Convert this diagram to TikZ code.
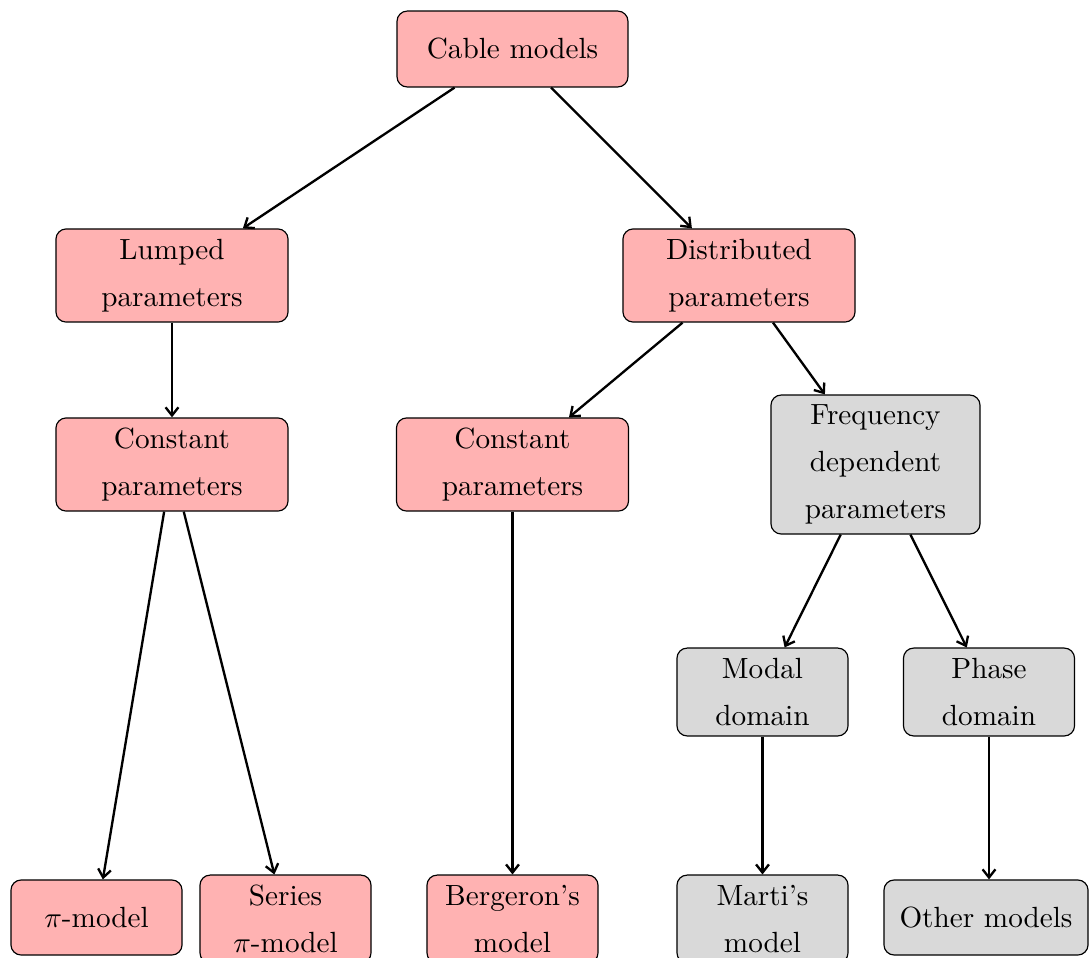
\documentclass[tikz,border=0pt]{standalone}
\usetikzlibrary{arrows.meta}
\begin{document}
\begin{tikzpicture}[x=0.3425pt, y=-0.3425pt,
  box/.style={draw, rounded corners=3.5pt, align=center, inner sep=2pt},
  redbox/.style={box, fill=red!30},
  graybox/.style={box, fill=gray!30},
  wide/.style={minimum width=79.5pt, minimum height=31.9pt},
  narrow/.style={minimum width=58.6pt, minimum height=30.1pt},
  link/.style={-{Straight Barb[length=2.8pt, width=4.4pt]}, thick}]
\useasboundingbox (0,0) rectangle (1089,957);

% top level
\node[redbox, minimum width=79.1pt, minimum height=26pt] (cable) at (512.5,49) {Cable models};

% second level
\node[redbox, wide] (lumped) at (172,275.5) {Lumped\\[4.1pt]parameters};
\node[redbox, wide] (distr) at (739,275.5) {Distributed\\[4.1pt]parameters};

% third level
\node[redbox, wide] (constL) at (172,464.5) {Constant\\[4.1pt]parameters};
\node[redbox, wide] (constM) at (512.5,464.5) {Constant\\[4.1pt]parameters};
\node[graybox, minimum width=71.6pt, minimum height=47.6pt] (freq) at (875.5,464.5) {Frequency\\[4.1pt]dependent\\[4.1pt]parameters};

% fourth level
\node[graybox, narrow] (modal) at (762.5,692) {Modal\\[4.1pt]domain};
\node[graybox, narrow] (phase) at (989,692) {Phase\\[4.1pt]domain};

% leaves
\node[redbox, minimum width=58.6pt, minimum height=25.7pt] (pi) at (96.5,917.5) {$\pi$-model};
\node[redbox, narrow] (series) at (285.5,919) {Series\\[4.1pt]$\pi$-model};
\node[redbox, narrow] (berg) at (512.5,919) {Bergeron's\\[4.1pt]model};
\node[graybox, narrow] (marti) at (762.5,919) {Marti's\\[4.1pt]model};
\node[graybox, minimum width=69.9pt, minimum height=25.7pt] (other) at (986,917.5) {Other models};

% connectors
\draw[link] (cable) -- (lumped);
\draw[link] (cable) -- (distr);
\draw[link] (lumped) -- (constL);
\draw[link] (distr) -- (constM);
\draw[link] (distr) -- (freq);
\draw[link] (constL) -- (pi);
\draw[link] (constL) -- (series);
\draw[link] (constM) -- (berg);
\draw[link] (freq) -- (modal);
\draw[link] (freq) -- (phase);
\draw[link] (modal) -- (marti);
\draw[link] (phase) -- (phase |- other.north);
\end{tikzpicture}
\end{document}
